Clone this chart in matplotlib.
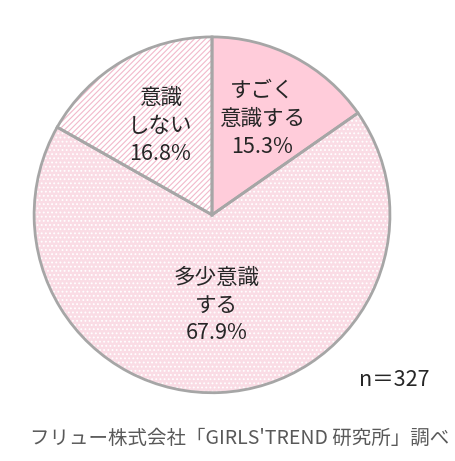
import numpy as np
import matplotlib
matplotlib.use("Agg")
import matplotlib.pyplot as plt

plt.rcParams['font.family'] = ['Noto Sans CJK JP', 'DejaVu Sans']
plt.rcParams['hatch.linewidth'] = 0.8

# Data
labels = ["すごく\n意識する", "多少意識\nする", "意識\nしない"]
shares = [15.3, 67.9, 16.8]
sample_note = "n＝327"
source_note = "フリュー株式会社「GIRLS'TREND 研究所」調べ"

# Styles per slice
face_colors = ["#FFCCDA", "#FADCE5", "#FFFFFF"]
hatches = [None, "....", "//////"]
hatch_colors = [None, "#FFFFFF", "#F2B9CB"]
label_dist = [0.61, 0.51, 0.58]

fig = plt.figure(figsize=(4.55, 4.61), dpi=100)
ax = fig.add_axes([0.075, 0.148, 0.782, 0.772])

# fill layer
wedges, _ = ax.pie(shares, startangle=90, counterclock=False, colors=face_colors,
                   wedgeprops=dict(linewidth=0, edgecolor="none"))
# hatch layer
hw, _ = ax.pie(shares, startangle=90, counterclock=False,
               wedgeprops=dict(linewidth=0, facecolor="none"))
for w, h, hc in zip(hw, hatches, hatch_colors):
    if h:
        w.set_hatch(h)
        w.set_edgecolor(hc)
    else:
        w.set_visible(False)
# border layer
ax.pie(shares, startangle=90, counterclock=False,
       wedgeprops=dict(linewidth=2, edgecolor="#A6A6A6", facecolor="none"))

# slice labels
for w, lab, val, d in zip(wedges, labels, shares, label_dist):
    mid = np.deg2rad((w.theta1 + w.theta2) / 2)
    ax.text(d * np.cos(mid), d * np.sin(mid), f"{lab}\n{val:.1f}%",
            ha="center", va="center", fontsize=15.5, color="#262626",
            linespacing=1.35)

ax.set_xlim(-1.0, 1.0)
ax.set_ylim(-1.0, 1.0)
ax.set_aspect("equal")
ax.axis("off")

fig.text(0.945, 0.176, sample_note, ha="right", va="center",
         fontsize=15.5, color="#262626")
fig.text(0.527, 0.05, source_note, ha="center", va="center",
         fontsize=14, color="#595959")

fig.savefig("out.png", dpi=100)
